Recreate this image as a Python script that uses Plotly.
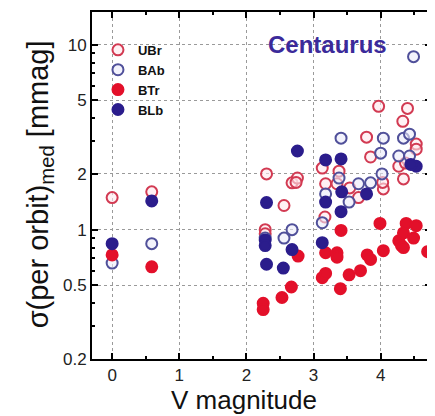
import plotly.graph_objects as go

# ---- data (V magnitude, sigma per orbit median in mmag) ----
ubr_x = [0.00, 0.59, 2.30, 2.68, 2.76, 2.74, 2.56, 2.28, 2.28, 3.13, 3.38, 3.18, 3.35, 3.54,
         3.67, 3.17, 3.79, 3.85, 3.97, 4.40, 4.33, 4.53, 4.53, 4.27, 4.37, 4.34, 4.04, 4.03]
ubr_y = [1.49, 1.60, 2.00, 1.79, 1.90, 1.80, 1.35, 1.00, 0.95, 2.15, 2.07, 1.77, 1.77, 1.68,
         1.49, 1.17, 3.16, 2.47, 4.64, 4.52, 3.85, 2.90, 2.72, 2.20, 2.29, 1.88, 1.66, 1.80]

bab_x = [0.00, 0.59, 2.28, 2.68, 2.56, 3.13, 3.18, 3.38, 3.41, 3.53, 3.67, 3.85, 4.00, 4.02,
         4.04, 4.34, 4.43, 4.27, 4.43, 4.49]
bab_y = [0.66, 0.84, 0.90, 1.00, 0.90, 1.09, 1.56, 1.90, 3.12, 1.41, 1.77, 1.79, 2.59, 2.00,
         3.12, 3.12, 3.28, 2.50, 2.50, 8.60]

btr_x = [0.00, 0.59, 2.25, 2.25, 2.53, 2.67, 2.77, 3.13, 3.18, 3.18, 3.35, 3.35, 3.40, 3.41,
         3.53, 3.70, 3.80, 3.85, 3.99, 4.04, 4.27, 4.31, 4.34, 4.34, 4.38, 4.53, 4.49, 4.70]
btr_y = [0.73, 0.63, 0.40, 0.37, 0.43, 0.49, 0.72, 0.55, 0.58, 0.75, 0.75, 0.71, 0.48, 0.99,
         0.57, 0.60, 0.73, 0.69, 1.08, 0.77, 0.87, 0.82, 0.80, 0.96, 1.08, 1.05, 0.90, 0.76]

blb_x = [0.00, 0.59, 2.76, 2.30, 2.28, 2.28, 2.30, 2.55, 2.68, 3.13, 3.18, 3.41, 3.42, 3.18,
         3.41, 3.79, 4.53, 4.45]
blb_y = [0.84, 1.43, 2.66, 1.40, 0.88, 0.82, 0.65, 0.62, 0.78, 0.85, 2.38, 2.41, 1.60, 1.41,
         1.25, 1.56, 2.20, 2.25]

x_ticks = [0, 1, 2, 3, 4]
y_ticks = [0.2, 0.5, 1, 2, 5, 10]
y_minor = [0.3, 0.4, 0.6, 0.7, 0.8, 0.9, 3, 4, 6, 7, 8, 9]

FONT = "Liberation Sans, Arial, sans-serif"

fig = go.Figure()
series = [
    ("UBr", ubr_x, ubr_y, "rgba(255,232,236,0.6)", "#d23a52"),
    ("BAb", bab_x, bab_y, "rgba(235,235,250,0.6)", "#50509a"),
    ("BTr", btr_x, btr_y, "#e3102a", "#e3102a"),
    ("BLb", blb_x, blb_y, "#2b1d8c", "#2b1d8c"),
]
for name, xs, ys, fill, line in series:
    fig.add_trace(go.Scatter(
        x=xs, y=ys, mode="markers", name=name,
        marker=dict(symbol="circle", size=11, color=fill,
                    line=dict(color=line, width=2)),
    ))

axis_common = dict(
    showline=True, linecolor="black", linewidth=2, mirror="ticks",
    ticks="inside", tickcolor="black", ticklen=6, tickwidth=1.5,
    showgrid=True, gridcolor="#9a9a9a", griddash="dot", gridwidth=1,
    zeroline=False,
    tickfont=dict(family=FONT, size=17, color="#222"),
)

fig.update_xaxes(range=[-0.3, 4.75], tickvals=x_ticks, ticktext=[str(v) for v in x_ticks],
                 minor=dict(tickvals=[0.5, 1.5, 2.5, 3.5, 4.5], ticks="inside", ticklen=3,
                            tickcolor="black", showgrid=False),
                 **axis_common)
fig.update_yaxes(type="log", range=[-0.69897, 1.176], tickvals=y_ticks,
                 ticktext=["0.2", "0.5", "1", "2", "5", "10"],
                 minor=dict(tickvals=y_minor, ticks="inside", ticklen=3,
                            tickcolor="black", showgrid=False),
                 **axis_common)

# the page adds an 8px body margin; plot area targets (92..433, 10..359) in window pixels
OX, OY = 8, 8
W, H = 435, 416
PL, PR, PT, PB = 92, 433, 10, 359


def px(x):
    return (x - PL) / (PR - PL)


def py(y):
    return (PB - y) / (PB - PT)


fig.add_annotation(text="Centaurus", xref="paper", yref="paper",
                   x=px(329), y=py(43), xanchor="center", yanchor="middle", showarrow=False,
                   font=dict(family=FONT, size=24, color="#3b2a9a", weight="bold"))
fig.add_annotation(text="V magnitude", xref="paper", yref="paper",
                   x=px(245), y=py(400), xanchor="center", yanchor="middle", showarrow=False,
                   font=dict(family=FONT, size=26, color="#111"))
fig.add_annotation(text="σ(per orbit)<sub>med</sub> [mmag]", xref="paper", yref="paper",
                   x=px(40), y=py(183), xanchor="center", yanchor="middle",
                   showarrow=False, textangle=-90,
                   font=dict(family=FONT, size=29, color="#111"))

fig.update_layout(
    width=W - OX, height=H - OY,
    margin=dict(l=PL - OX, r=W - PR, t=PT - OY, b=H - PB),
    paper_bgcolor="white", plot_bgcolor="white",
    showlegend=True,
    legend=dict(x=px(98), y=py(33), xanchor="left", yanchor="top",
                bgcolor="rgba(0,0,0,0)",
                font=dict(family=FONT, size=13, color="#111", weight="bold"),
                itemwidth=30),
)

fig.write_html("out.html")
